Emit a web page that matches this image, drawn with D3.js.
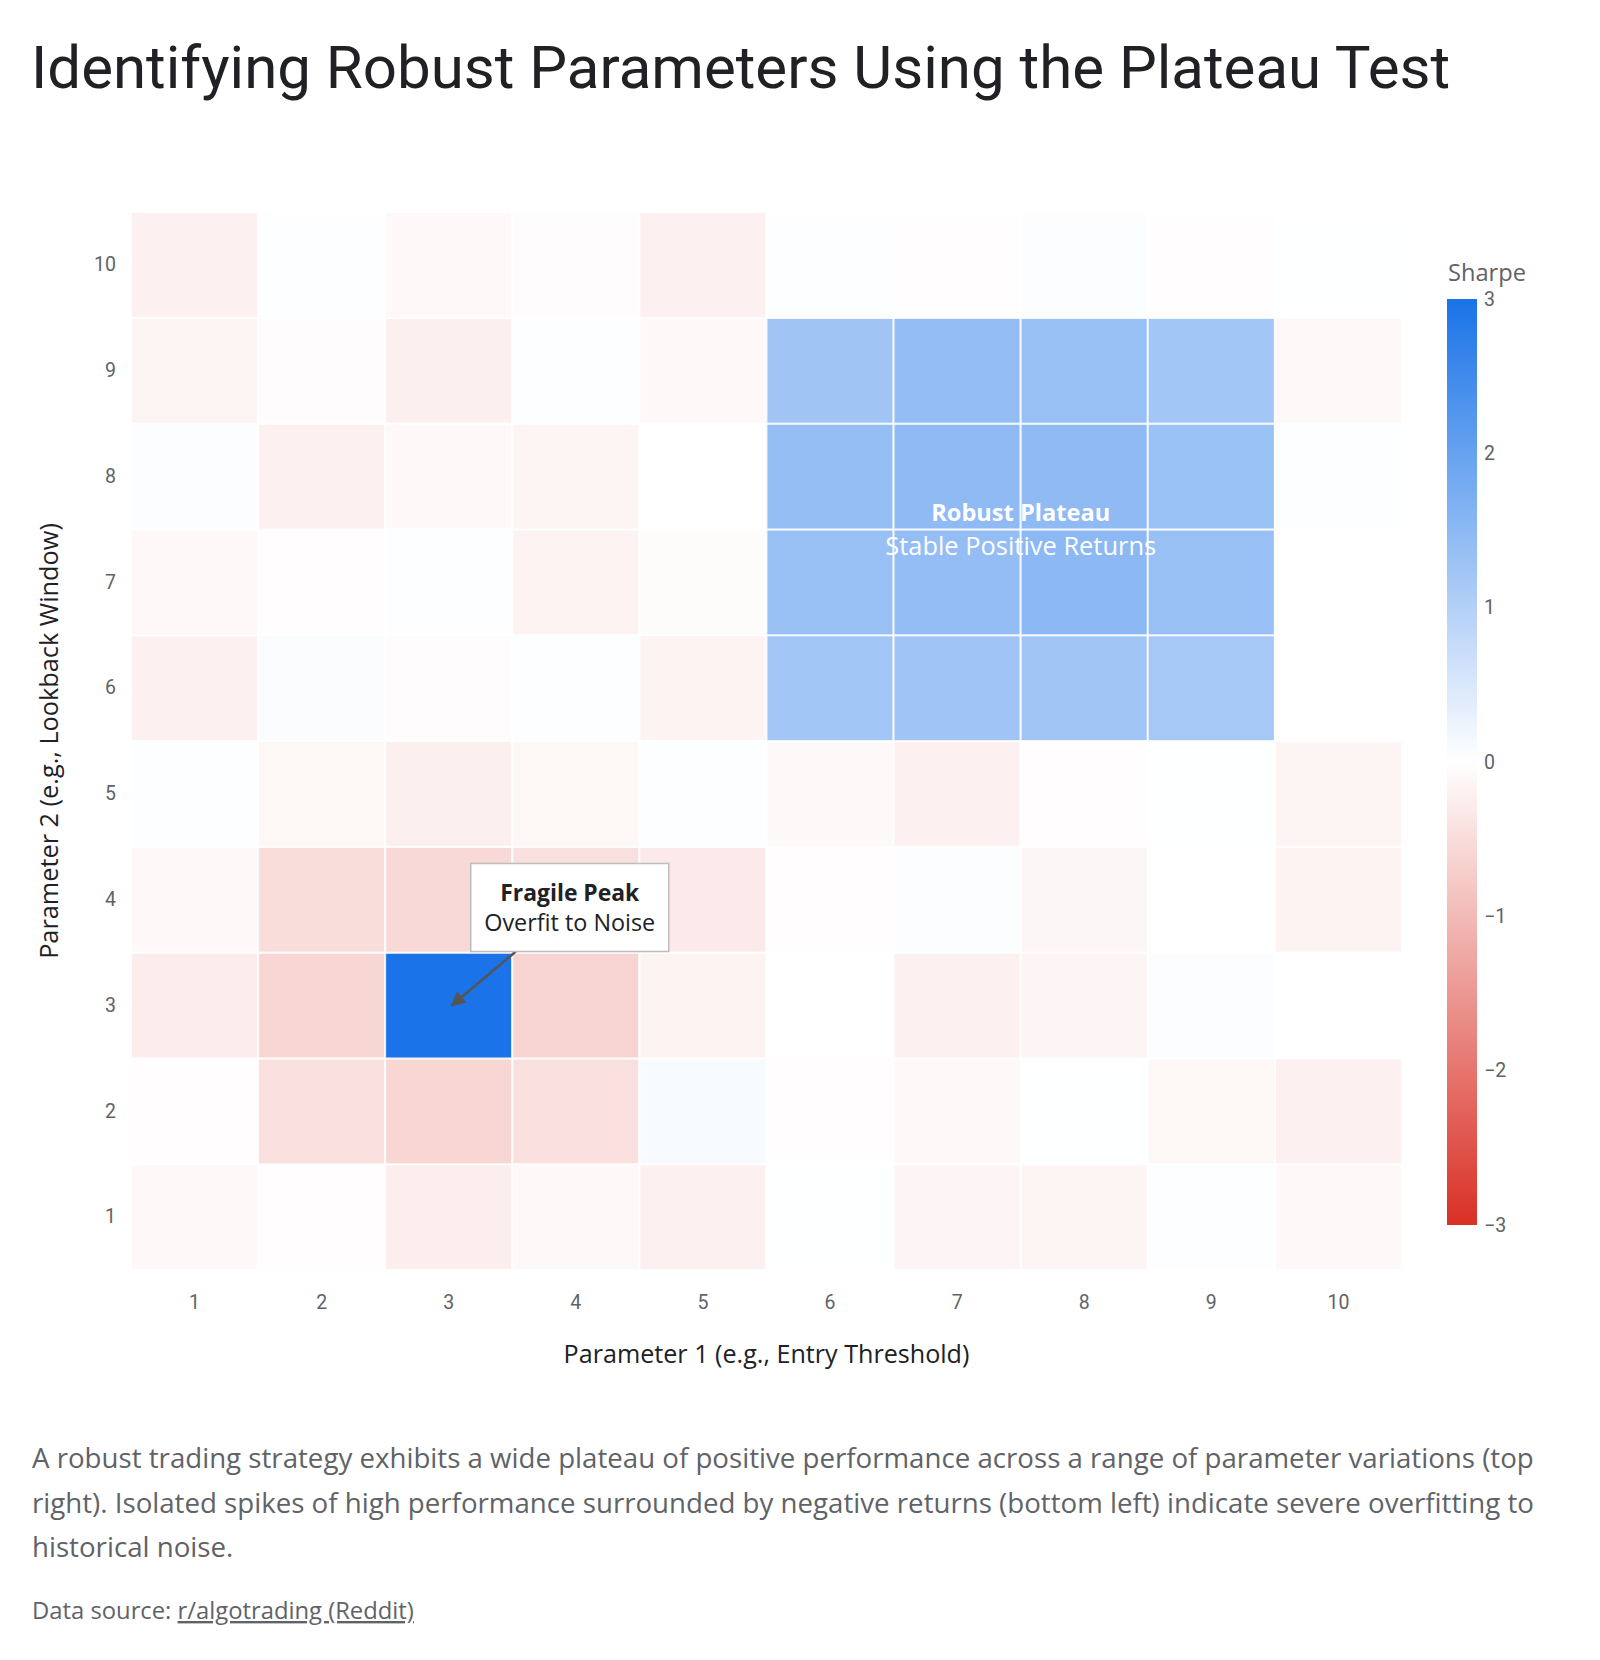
<!DOCTYPE html>
<html lang="en">
<head>
    <meta charset="utf-8">
    <script type="text/javascript" src="https://d3js.org/d3.v7.min.js"></script>
    <style>
        body { margin: 0; background: #fff; }
        svg text { font-family: "Open Sans", Roboto, sans-serif; }
    </style>
</head>

<body>
    <script type="text/javascript">
        // Page size
        let w = 1600;
        let h = 1660;

        // Dataset (Sharpe ratio by parameter pair)
        let param1 = [1, 2, 3, 4, 5, 6, 7, 8, 9, 10];
        let param2 = [1, 2, 3, 4, 5, 6, 7, 8, 9, 10];
        // one row per Parameter 2 value (1 at the bottom), columns = Parameter 1
        let row1  = [-0.10, -0.03, -0.25, -0.08, -0.20,  0.01, -0.14, -0.15,  0.03, -0.10];
        let row2  = [-0.03, -0.45, -0.60, -0.45,  0.10, -0.03, -0.08,  0.01, -0.12, -0.20];
        let row3  = [-0.26, -0.60,  3.00, -0.62, -0.17,  0.00, -0.20, -0.14,  0.04,  0.00];
        let row4  = [-0.10, -0.50, -0.55, -0.45, -0.30, -0.03,  0.05, -0.13,  0.00, -0.17];
        let row5  = [ 0.02, -0.12, -0.22, -0.12,  0.03, -0.08, -0.20, -0.03,  0.01, -0.15];
        let row6  = [-0.20,  0.07, -0.04,  0.02, -0.18,  1.22,  1.26,  1.23,  1.17,  0.00];
        let row7  = [-0.10, -0.03,  0.03, -0.18, -0.05,  1.35,  1.41,  1.51,  1.34,  0.00];
        let row8  = [ 0.04, -0.20, -0.10, -0.15,  0.00,  1.39,  1.47,  1.47,  1.31,  0.02];
        let row9  = [-0.15, -0.04, -0.22,  0.02, -0.10,  1.24,  1.41,  1.35,  1.22, -0.08];
        let row10 = [-0.20,  0.02, -0.10, -0.04, -0.20,  0.03, -0.03,  0.04, -0.03,  0.01];
        let rows = [row1, row2, row3, row4, row5, row6, row7, row8, row9, row10];
        let colorTicks = [-3, -2, -1, 0, 1, 2, 3];

        // Flatten into cells
        let cells = [];
        rows.forEach((r, j) => r.forEach((v, i) => cells.push({x: param1[i], y: param2[j], v: v})));

        // Plot area
        let plot = {left: 131, right: 1402, top: 212, bottom: 1270};

        let svg = d3.select("body").append("svg")
                    .attr("width", w)
                    .attr("height", h);

        // Shrink/grow a text's font size so it spans the wanted width
        let fit = function(sel, target) {
            let len = sel.node().getComputedTextLength();
            let fs = parseFloat(sel.attr("font-size"));
            sel.attr("font-size", (fs * target / len).toFixed(2) + "px");
            return sel;
        };

        // Scales
        let x = d3.scaleBand()
            .domain(param1)
            .range([plot.left, plot.right]);

        let y = d3.scaleBand()
            .domain(param2)
            .range([plot.bottom, plot.top]);

        let color = d3.scaleLinear()
            .domain([-3, 0, 3])
            .range(["#d93025", "#ffffff", "#1a73e8"])
            .clamp(true);

        // Title
        svg.append("text")
            .attr("x", 31)
            .attr("y", 88)
            .attr("font-size", "60px")
            .attr("fill", "#202124")
            .style("font-family", "Roboto, sans-serif")
            .text("Identifying Robust Parameters Using the Plateau Test");

        // Heatmap cells
        svg.append("g")
            .selectAll("rect")
            .data(cells)
            .join("rect")
                .attr("x", d => x(d.x))
                .attr("y", d => y(d.y))
                .attr("width", x.bandwidth())
                .attr("height", y.bandwidth())
                .attr("fill", d => color(d.v))
                .attr("stroke", "#ffffff")
                .attr("stroke-opacity", 0.8)
                .attr("stroke-width", 2);

        // Axes
        let xAxis = svg.append("g")
            .attr("transform", `translate(0,${plot.bottom})`)
            .call(d3.axisBottom(x).tickSize(0).tickPadding(25));

        let yAxis = svg.append("g")
            .attr("transform", `translate(${plot.left},0)`)
            .call(d3.axisLeft(y).tickSize(0).tickPadding(15));

        [xAxis, yAxis].forEach(a => {
            a.select(".domain").remove();
            a.selectAll("text")
                .attr("font-size", "19.5px")
                .attr("fill", "#5f6368")
                .style("font-family", "Roboto, sans-serif");
        });

        // Axis titles
        let xTitle = svg.append("text")
            .attr("x", (plot.left + plot.right) / 2)
            .attr("y", 1363)
            .attr("text-anchor", "middle")
            .attr("font-size", "22px")
            .attr("fill", "#202124")
            .text("Parameter 1 (e.g., Entry Threshold)");
        fit(xTitle, 406);

        let yTitle = svg.append("text")
            .attr("transform", `translate(58,${(plot.top + plot.bottom) / 2}) rotate(-90)`)
            .attr("text-anchor", "middle")
            .attr("font-size", "22px")
            .attr("fill", "#202124")
            .text("Parameter 2 (e.g., Lookback Window)");
        fit(yTitle, 436);

        // Plateau label
        let plateauX = x(7) + x.bandwidth();
        let plateauY = y(8) + y.bandwidth();
        fit(svg.append("text")
            .attr("x", plateauX)
            .attr("y", plateauY - 8)
            .attr("text-anchor", "middle")
            .attr("font-size", "22px")
            .attr("font-weight", "bold")
            .attr("fill", "#ffffff")
            .text("Robust Plateau"), 179);
        fit(svg.append("text")
            .attr("x", plateauX)
            .attr("y", plateauY + 26)
            .attr("text-anchor", "middle")
            .attr("font-size", "22px")
            .attr("fill", "#ffffff")
            .text("Stable Positive Returns"), 271);

        // Fragile peak callout with arrow
        let peakX = x(3) + x.bandwidth() / 2;
        let peakY = y(3) + y.bandwidth() / 2;
        let boxW = 198, boxH = 88;
        let boxX = peakX + 121 - boxW / 2;
        let boxY = peakY - 98 - boxH / 2;

        svg.append("defs").append("marker")
            .attr("id", "arrow")
            .attr("viewBox", "0 0 10 10")
            .attr("refX", 9)
            .attr("refY", 5)
            .attr("markerWidth", 6)
            .attr("markerHeight", 6)
            .attr("orient", "auto")
            .append("path")
                .attr("d", "M0,0 L10,5 L0,10 Z")
                .attr("fill", "#555555");

        svg.append("line")
            .attr("x1", boxX + 45)
            .attr("y1", boxY + boxH)
            .attr("x2", peakX + 3)
            .attr("y2", peakY)
            .attr("stroke", "#555555")
            .attr("stroke-width", 2.5)
            .attr("marker-end", "url(#arrow)");

        svg.append("rect")
            .attr("x", boxX)
            .attr("y", boxY)
            .attr("width", boxW)
            .attr("height", boxH)
            .attr("fill", "#ffffff")
            .attr("stroke", "#bdbdbd")
            .attr("stroke-width", 1.5);

        fit(svg.append("text")
            .attr("x", boxX + boxW / 2)
            .attr("y", boxY + 37)
            .attr("text-anchor", "middle")
            .attr("font-size", "21px")
            .attr("font-weight", "bold")
            .attr("fill", "#202124")
            .text("Fragile Peak"), 139);
        fit(svg.append("text")
            .attr("x", boxX + boxW / 2)
            .attr("y", boxY + 67)
            .attr("text-anchor", "middle")
            .attr("font-size", "21px")
            .attr("fill", "#202124")
            .text("Overfit to Noise"), 171);

        // Colorbar
        let bar = {x: 1447, w: 30, top: 299, bottom: 1225};
        let grad = svg.select("defs").append("linearGradient")
            .attr("id", "cbar")
            .attr("x1", 0).attr("y1", 1)
            .attr("x2", 0).attr("y2", 0);
        grad.selectAll("stop")
            .data(colorTicks)
            .join("stop")
                .attr("offset", d => (d + 3) / 6)
                .attr("stop-color", d => color(d));

        svg.append("rect")
            .attr("x", bar.x)
            .attr("y", bar.top)
            .attr("width", bar.w)
            .attr("height", bar.bottom - bar.top)
            .attr("fill", "url(#cbar)");

        let cScale = d3.scaleLinear().domain([-3, 3]).range([bar.bottom, bar.top]);
        let cAxis = svg.append("g")
            .attr("transform", `translate(${bar.x + bar.w},0)`)
            .call(d3.axisRight(cScale).tickValues(colorTicks).tickSize(0).tickPadding(7).tickFormat(d3.format("d")));
        cAxis.select(".domain").remove();
        cAxis.selectAll("text")
            .attr("font-size", "19.5px")
            .attr("fill", "#5f6368")
            .style("font-family", "Roboto, sans-serif");

        fit(svg.append("text")
            .attr("x", 1487)
            .attr("y", 281)
            .attr("text-anchor", "middle")
            .attr("font-size", "21px")
            .attr("fill", "#5f6368")
            .text("Sharpe"), 78);

        // Caption
        let caption = [
            "A robust trading strategy exhibits a wide plateau of positive performance across a range of parameter variations (top",
            "right). Isolated spikes of high performance surrounded by negative returns (bottom left) indicate severe overfitting to",
            "historical noise."
        ];
        let capLines = svg.append("g")
            .attr("font-size", "25px")
            .selectAll("text")
            .data(caption)
            .join("text")
                .attr("x", 32)
                .attr("y", (d, i) => 1468 + i * 44.5)
                .attr("fill", "#5f6368")
                .text(d => d);
        let capLen = capLines.node().getComputedTextLength();
        capLines.attr("font-size", (25 * 1502 / capLen).toFixed(2) + "px");

        // Source line
        let src = svg.append("text")
            .attr("x", 32)
            .attr("y", 1619)
            .attr("font-size", "20px")
            .attr("fill", "#5f6368");
        src.append("tspan").text("Data source: ");
        src.append("tspan")
            .attr("text-decoration", "underline")
            .text("r/algotrading (Reddit)");
        fit(src, 382);
    </script>
</body>
</html>
